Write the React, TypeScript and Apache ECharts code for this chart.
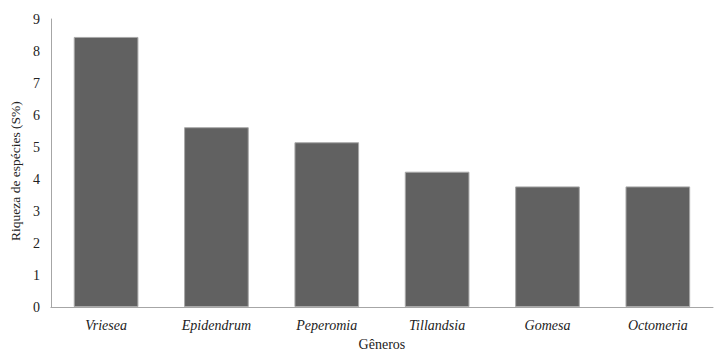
import React, { useEffect, useRef } from "react";
import * as echarts from "echarts";

const categories = ["Vriesea", "Epidendrum", "Peperomia", "Tillandsia", "Gomesa", "Octomeria"];
const values = [8.44, 5.62, 5.15, 4.23, 3.77, 3.77];
const yTicks = { min: 0, max: 9, interval: 1 };

export default function App() {
  const ref = useRef<HTMLDivElement>(null);
  useEffect(() => {
    if (!ref.current) return;
    const chart = echarts.init(ref.current, undefined, { renderer: "svg" });
    const font = "Liberation Serif";
    chart.setOption({
      animation: false,
      backgroundColor: "#ffffff",
      textStyle: { fontFamily: font },
      grid: { left: 48, right: 2, top: 19, bottom: 44, containLabel: false },
      xAxis: {
        type: "category",
        data: categories,
        name: "Gêneros",
        nameLocation: "middle",
        nameGap: 27,
        nameTextStyle: { fontFamily: font, fontSize: 14, color: "#222" },
        axisLine: { lineStyle: { color: "#a6a6a6", width: 1 } },
        axisTick: { show: false },
        axisLabel: { fontFamily: font, fontSize: 14, fontStyle: "italic", color: "#222", margin: 11 },
      },
      yAxis: {
        type: "value",
        min: yTicks.min,
        max: yTicks.max,
        interval: yTicks.interval,
        name: "Riqueza de espécies (S%)",
        nameLocation: "middle",
        nameGap: 23,
        nameTextStyle: { fontFamily: font, fontSize: 13.5, color: "#222", padding: [0, 16, 0, 0] },
        axisLine: { show: true, lineStyle: { color: "#a6a6a6", width: 1 } },
        axisTick: { show: false },
        splitLine: { show: false },
        axisLabel: { fontFamily: font, fontSize: 14, color: "#222", margin: 11 },
      },
      series: [
        {
          type: "bar",
          data: values,
          barWidth: "58.6%",
          itemStyle: { color: "#616161", borderColor: "#a8a8a8", borderWidth: 1 },
        },
      ],
    });
    return () => chart.dispose();
  }, []);
  return <div ref={ref} style={{ width: 715, height: 356, position: "absolute", left: 0, top: 0 }} />;
}
